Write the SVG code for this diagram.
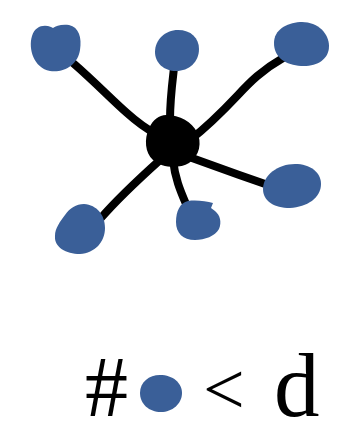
<svg xmlns="http://www.w3.org/2000/svg" width="341" height="436" viewBox="0 0 341 436">
  <style>
    .blob { fill: #3a5f98; }
    .hub { fill: #000; }
    .edge { fill: none; stroke: #000; stroke-width: 8; stroke-linecap: round; }
    .sym { font-family: "Liberation Serif", "Times New Roman", serif; fill: #000; }
  </style>
  <rect width="341" height="436" fill="#fff"/>

  <!-- spokes from the hub to each leaf -->
  <g id="connectors">
    <path class="edge" d="M73,63 C95,82 112,100 127,113 C137,122 145,128 156,134"/>
    <path class="edge" d="M174,68 C172,85 170,100 170,120"/>
    <path class="edge" d="M283,58 C262,70 250,82 238,95 C222,112 208,126 190,140"/>
    <path class="edge" d="M192,158 C220,168 242,176 268,185"/>
    <path class="edge" d="M173,160 C175,178 180,190 186,204"/>
    <path class="edge" d="M160,160 C140,178 120,196 101,218"/>
  </g>

  <g id="hub">
    <path class="hub" d="M166,115 C180,115 192,122 197,132 C202,142 200,156 189,163 C179,169 162,168 153,160 C145,153 144,139 149,128 C153,120 159,115 166,115 Z"/>
  </g>

  <g id="leaf-top-left">
    <path class="blob" d="M51,27 C44,24 35,26 32,36 C28,49 34,68 50,71 C65,73 78,64 80,50 C82,38 79,27 69,25 C61,24 56,26 53,28 Z"/>
  </g>
  <g id="leaf-top-middle">
    <path class="blob" d="M178,30 C191,30 199,38 199,49 C199,62 189,71 176,71 C164,71 155,63 155,52 C155,40 165,30 178,30 Z"/>
  </g>
  <g id="leaf-top-right">
    <path class="blob" d="M300,22 C317,21 329,33 329,46 C329,60 316,67 301,66 C286,65 274,58 274,43 C274,30 286,23 300,22 Z"/>
  </g>
  <g id="leaf-right">
    <path class="blob" d="M295,164 C310,164 321,172 321,184 C321,198 307,207 290,208 C274,208 263,201 263,189 C263,175 278,164 295,164 Z"/>
  </g>
  <g id="leaf-bottom-middle">
    <path class="blob" d="M188,201 C196,200 206,201 213,203 L211,208 L215,211 C220,215 222,222 219,229 C215,236 205,240 195,240 C183,240 176,233 176,222 C176,211 180,203 188,201 Z"/>
  </g>
  <g id="leaf-bottom-left">
    <path class="blob" d="M84,204 C97,205 105,215 105,228 C105,242 95,253 80,254 C66,254 54,247 55,236 C55,228 60,222 65,215 C70,208 76,204 84,204 Z"/>
  </g>

  <!-- legend: # (node) < d -->
  <g id="legend">
    <text class="sym" x="85" y="416" font-size="86">#</text>
    <path class="blob" d="M160,375 C173,375 182,383 182,393 C182,404 172,412 161,412 C149,412 140,404 140,393 C140,382 149,375 160,375 Z"/>
    <text class="sym" x="203" y="414" font-size="74">&lt;</text>
    <text class="sym" x="274" y="416" font-size="91">d</text>
  </g>
</svg>
